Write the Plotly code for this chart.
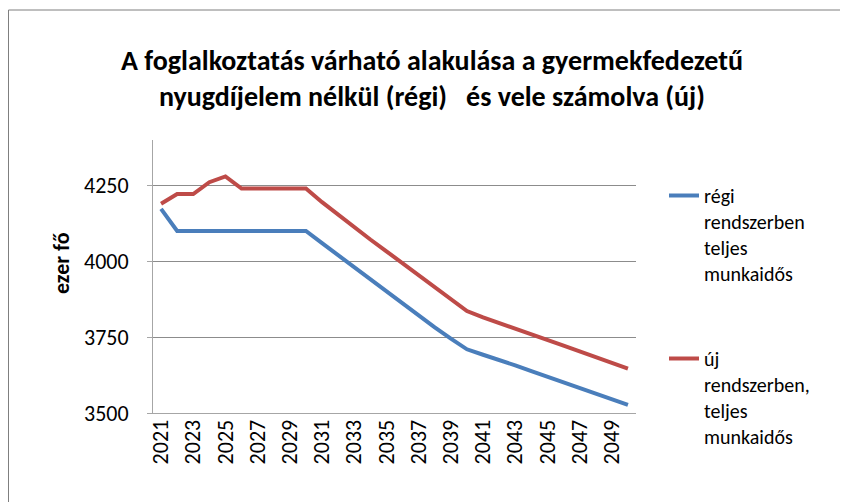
import plotly.graph_objects as go

years = [str(y) for y in range(2021, 2051)]
regi = [4173, 4100, 4100, 4100, 4100, 4100, 4100, 4100, 4100, 4100,
        4060, 4020, 3980, 3940, 3900, 3860, 3820, 3782, 3745, 3710,
        3692, 3676, 3657, 3638, 3619, 3600, 3581, 3563, 3545, 3527]
uj = [4190, 4222, 4222, 4261, 4280, 4240, 4240, 4240, 4240, 4240,
      4195, 4153, 4112, 4072, 4033, 3993, 3953, 3914, 3875, 3836,
      3815, 3797, 3778, 3760, 3741, 3722, 3703, 3684, 3665, 3646]
tick_years = years[::2]
y_ticks = [3500, 3750, 4000, 4250]

FONT = "Carlito, Lato, sans-serif"

fig = go.Figure()
fig.add_trace(go.Scatter(x=years, y=regi, mode="lines",
                         name="régi<br>rendszerben<br>teljes<br>munkaidős",
                         legendgroup="a",
                         line=dict(color="#4A7EBB", width=4)))
fig.add_trace(go.Scatter(x=years, y=uj, mode="lines",
                         name="új<br>rendszerben,<br>teljes<br>munkaidős",
                         legendgroup="b",
                         line=dict(color="#BE4B48", width=4)))

# the page body adds an 8px offset, so the figure is laid out 8px up/left
OFF = 8
W, H = 848 - OFF, 502 - OFF
L, T = 153 - OFF, 140 - OFF
pw, ph = 483, 273
R, B = W - L - pw, H - T - ph

def px_x(p):
    return (p - OFF - L) / pw

def px_y(p):
    return (T + ph - (p - OFF)) / ph

fig.update_layout(
    width=W, height=H,
    margin=dict(l=L, r=R, t=T, b=B, autoexpand=False),
    paper_bgcolor="white", plot_bgcolor="white",
    font=dict(family=FONT, size=20, color="black"),
    title=dict(text="<b>A foglalkoztatás várható alakulása a gyermekfedezetű<br>nyugdíjelem nélkül (régi)   és vele számolva (új)</b>",
               x=(432 - OFF) / W, xanchor="center", xref="container",
               y=1 - 62 / H, yanchor="top", yref="container",
               font=dict(family=FONT, size=28, color="black")),
    showlegend=True,
    legend=dict(x=px_x(664), xanchor="left", y=px_y(176), yanchor="top",
                valign="top", tracegroupgap=56, traceorder="grouped",
                font=dict(family=FONT, size=20), itemwidth=30,
                maxheight=600, bgcolor="rgba(0,0,0,0)"),
    xaxis=dict(type="category", range=[-0.5, 29.5], tickmode="array",
               tickvals=tick_years, ticktext=tick_years, tickangle=-90,
               showline=True, linecolor="#A6A6A6", linewidth=1,
               showgrid=False, ticks="", tickfont=dict(size=22),
               ticklabelstandoff=-3, automargin=False),
    yaxis=dict(range=[3500, 4400], tickmode="array", tickvals=y_ticks,
               showline=True, linecolor="#A6A6A6", linewidth=1,
               showgrid=True, gridcolor="#8C8C8C", gridwidth=1,
               zeroline=False, ticks="outside", ticklen=5, tickcolor="#A6A6A6",
               tickfont=dict(size=22), ticklabelstandoff=14, automargin=False),
    annotations=[dict(text="<b>ezer fő</b>", textangle=-90, showarrow=False,
                      xref="paper", yref="paper", x=px_x(61), y=px_y(263),
                      xanchor="center", yanchor="middle",
                      font=dict(family=FONT, size=22, color="black"))],
    shapes=[dict(type="rect", xref="paper", yref="paper",
                 x0=px_x(8.5), x1=px_x(845),
                 y0=px_y(530), y1=px_y(10),
                 line=dict(color="#7F7F7F", width=1), fillcolor="rgba(0,0,0,0)",
                 layer="below")],
)

fig.write_html("out.html")
